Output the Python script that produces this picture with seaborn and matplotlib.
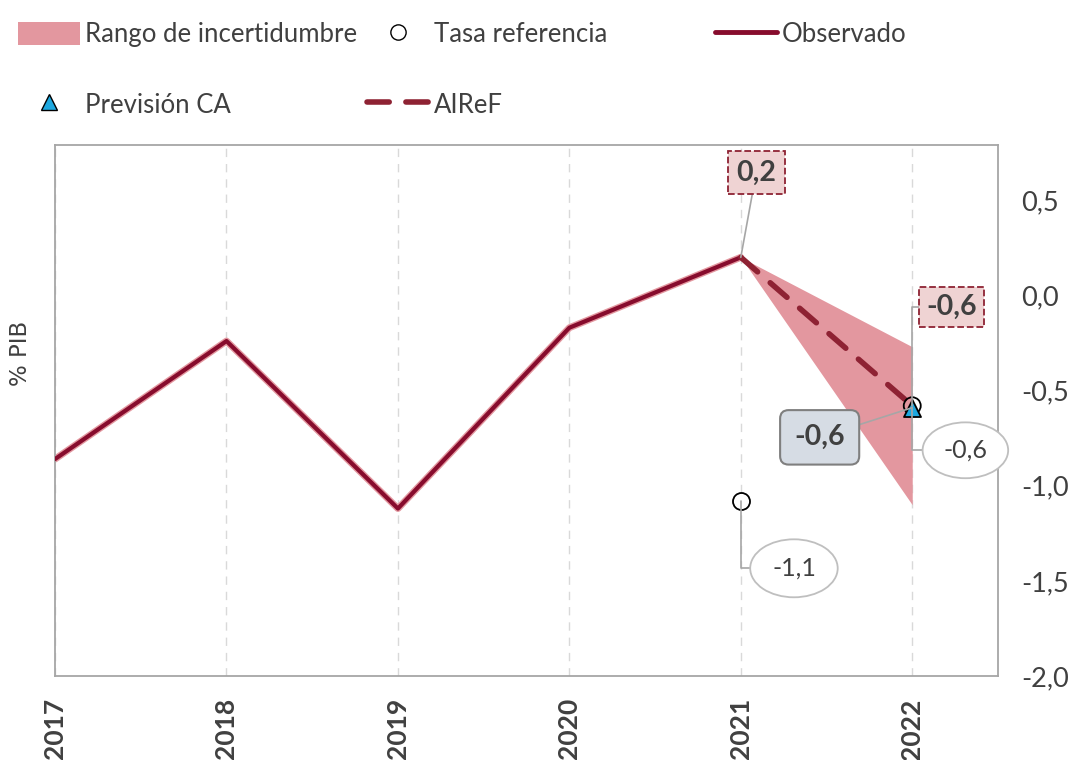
import numpy as np
import pandas as pd
import matplotlib.pyplot as plt
import seaborn as sns
from matplotlib.patches import Patch
from matplotlib.lines import Line2D

# datos
anios = [2017, 2018, 2019, 2020, 2021, 2022]
obs_anios = [2017, 2018, 2019, 2020, 2021]
observado = [-0.86, -0.24, -1.12, -0.17, 0.2]
airef_anios = [2021, 2022]
airef = [0.2, -0.58]
banda_sup = [0.2, -0.27]
banda_inf = [0.2, -1.1]
tasa_ref_anio = [2021]
tasa_ref = [-1.08]
prev_ca_anio = [2022]
prev_ca = [-0.59]
yticks = [0.5, 0.0, -0.5, -1.0, -1.5, -2.0]

sns.set_style("white")
plt.rcParams['font.family'] = ['Lato', 'DejaVu Sans']

granate = '#870C2D'
rojo_disc = '#8E2233'
rosa = '#E3979F'
gris_txt = '#404040'
disc = (0, (4, 3))

fig = plt.figure(figsize=(10.71, 7.6), dpi=100)
ax = fig.add_axes([0.0514, 0.1105, 0.8804, 0.6987])

ax.fill_between(airef_anios, banda_inf, banda_sup, color=rosa, lw=0, zorder=1)
df_obs = pd.DataFrame({'anio': obs_anios, 'valor': observado})
ax.plot(obs_anios, observado, color=rosa, lw=5, zorder=2)
sns.lineplot(data=df_obs, x='anio', y='valor', ax=ax, color=granate, lw=3, zorder=3)
df_air = pd.DataFrame({'anio': airef_anios, 'valor': airef})
sns.lineplot(data=df_air, x='anio', y='valor', ax=ax, color=rojo_disc, lw=4, zorder=3)
ax.lines[-1].set_linestyle(disc)
ax.lines[-1].set_dash_capstyle('round')
ax.scatter(tasa_ref_anio, tasa_ref, s=150, facecolor='white', edgecolor='black', lw=1.3, zorder=5)
ax.scatter(prev_ca_anio, prev_ca, s=150, marker='^', facecolor='#1EA8E0', edgecolor='black', lw=1.3, zorder=6)
ax.scatter(prev_ca_anio, [airef[-1]], s=150, facecolor='none', edgecolor='black', lw=1.3, zorder=5)

ax.set_xlim(2017, 2022.5)
ax.set_ylim(-2.0, 0.79)
ax.set_xticks(anios)
ax.set_xticklabels([str(a) for a in anios], rotation=90, fontsize=19, fontweight='bold', color=gris_txt)
ax.set_yticks(yticks)
ax.set_yticklabels([f'{v:.1f}'.replace('.', ',') for v in yticks], fontsize=19.5, color=gris_txt)
ax.yaxis.tick_right()
ax.tick_params(axis='both', length=0)
ax.tick_params(axis='y', pad=17)
ax.tick_params(axis='x', pad=16)
ax.set_xlabel('')
ax.set_ylabel('')
for a in anios:
    ax.axvline(a, color='#d9d9d9', lw=1, ls=(0, (6, 5)), zorder=0)
for s in ax.spines.values():
    s.set_color('#a6a6a6')
    s.set_linewidth(1.3)
fig.text(0.019, 0.535, '% PIB', rotation=90, fontsize=16.5, color=gris_txt,
         family='DejaVu Sans', va='center', ha='center')

# etiquetas
lc = '#a6a6a6'
ax.annotate('0,2', xy=(2021, 0.2), xytext=(2021.09, 0.646), ha='center', va='center',
            fontsize=20.5, fontweight='bold', color=gris_txt,
            bbox=dict(boxstyle='square,pad=0.3', fc='#EFD3D3', ec=rojo_disc, ls='--', lw=1.3),
            arrowprops=dict(arrowstyle='-', color=lc, lw=1.2, shrinkA=0, shrinkB=0), zorder=7)
ax.annotate('-0,6', xy=(2022, airef[-1]), xytext=(2022.23, -0.063), ha='center', va='center',
            fontsize=20.5, fontweight='bold', color=gris_txt,
            bbox=dict(boxstyle='square,pad=0.25', fc='#EFD3D3', ec=rojo_disc, ls='--', lw=1.3),
            arrowprops=dict(arrowstyle='-', color=lc, lw=1.2, shrinkA=0, shrinkB=0,
                            connectionstyle='angle,angleA=180,angleB=90,rad=0'), zorder=7)
ax.annotate('-0,6', xy=(2022, prev_ca[0]), xytext=(2021.46, -0.746), ha='center', va='center',
            fontsize=20.5, fontweight='bold', color=gris_txt,
            bbox=dict(boxstyle='round,pad=0.5,rounding_size=0.3', fc='#D6DCE4', ec='#7f7f7f', lw=1.5),
            arrowprops=dict(arrowstyle='-', color=lc, lw=1.2, shrinkA=0, shrinkB=0), zorder=7)
ax.annotate('-0,6', xy=(2022, prev_ca[0]), xytext=(2022.31, -0.814), ha='center', va='center',
            fontsize=18, color=gris_txt,
            bbox=dict(boxstyle='ellipse,pad=0.33', fc='white', ec='#bfbfbf', lw=1.3),
            arrowprops=dict(arrowstyle='-', color=lc, lw=1.2, shrinkA=0, shrinkB=0,
                            connectionstyle='angle,angleA=180,angleB=90,rad=0'), zorder=7)
ax.annotate('-1,1', xy=(2021, tasa_ref[0]), xytext=(2021.31, -1.434), ha='center', va='center',
            fontsize=18, color=gris_txt,
            bbox=dict(boxstyle='ellipse,pad=0.36', fc='white', ec='#bfbfbf', lw=1.3),
            arrowprops=dict(arrowstyle='-', color=lc, lw=1.2, shrinkA=0, shrinkB=0,
                            connectionstyle='angle,angleA=180,angleB=90,rad=0'), zorder=7)

# leyenda en tres columnas
h_rango = Patch(facecolor=rosa, edgecolor='none')
h_prev = Line2D([], [], marker='^', ls='none', ms=11, mfc='#1EA8E0', mec='black')
h_tasa = Line2D([], [], marker='o', ls='none', ms=11, mfc='white', mec='black')
h_airef = Line2D([], [], color=rojo_disc, lw=4, ls=disc, dash_capstyle='round')
h_obs = Line2D([], [], color=granate, lw=3.5)
cols = [([h_rango, h_prev], ['Rango de incertidumbre', 'Previsión CA'], 0.0),
        ([h_tasa, h_airef], ['Tasa referencia', 'AIReF'], 0.326),
        ([h_obs], ['Observado'], 0.651)]
for hs, ls_, x0 in cols:
    leg = fig.legend(hs, ls_, loc='upper left', bbox_to_anchor=(x0, 0.995), frameon=False,
                     fontsize=18.5, handlelength=2.4, handleheight=1.0, handletextpad=0.2,
                     labelspacing=1.76, borderaxespad=0.3)
    for t in leg.get_texts():
        t.set_color(gris_txt)

fig.savefig('out.png', dpi=100)
